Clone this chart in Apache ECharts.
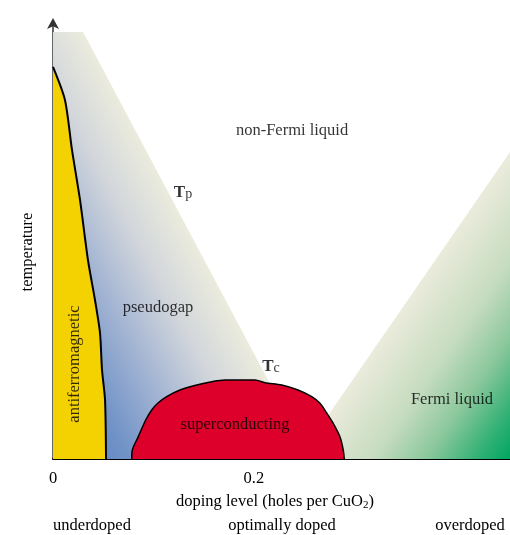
<!DOCTYPE html>
<html>
<head>
<meta charset="utf-8">
<script src="https://cdn.jsdelivr.net/npm/echarts@6/dist/echarts.min.js"></script>
<style>
  html, body { margin: 0; padding: 0; background: #fff; }
  #chart { width: 510px; height: 535px; }
</style>
</head>
<body>
<div id="chart"></div>
<script>
// Cuprate phase diagram: doping (holes per CuO2) vs temperature (arbitrary units)

// x-axis ticks
const tickValues = [0, 0.2];
const tickLabels = ['0', '0.2'];

// Neel line bounding the antiferromagnetic phase
const afDoping = [0, 0.0119, 0.0189, 0.0269, 0.0348, 0.0418, 0.0468, 0.0488, 0.0518, 0.0528];
const afTemp   = [275.4, 252.2, 217.1, 182.0, 139.8, 111.7, 88.5, 62.5, 41.5, 0];

// Pseudogap crossover T_p (shaded wedge beneath it)
const pgDoping = [0, 0.0299, 0.2559];
const pgTemp   = [300, 300, 0];

// Superconducting dome T_c
const scDoping = [0.0784, 0.0790, 0.0849, 0.0923, 0.0983, 0.1045, 0.1132, 0.1264, 0.1431, 0.1580, 0.1712,
                  0.2011, 0.2111, 0.2277, 0.2439, 0.2576, 0.2658, 0.2725, 0.2788, 0.2857, 0.2890, 0.2900];
const scTemp   = [0, 6.3, 15.7, 27.4, 34.4, 39.3, 43.8, 48.5, 52.0, 54.3, 55.5,
                  55.5, 53.6, 52.0, 48.5, 43.8, 39.1, 32.3, 25.3, 15.7, 6.3, 0];

// Fermi-liquid crossover (shaded wedge beneath it)
const flDoping = [0.2439, 0.455];
const flTemp   = [0, 215.7];

// Region names and where they sit in the diagram
const regionNames  = ['non-Fermi liquid', 'pseudogap', 'antiferromagnetic', 'superconducting', 'Fermi liquid'];
const regionDoping = [0.238, 0.1045, 0.0219, 0.1812, 0.3972];
const regionTemp   = [230.4, 106.1, 66.7, 23.9, 41.4];

// Crossover-line symbols
const lineNames  = ['T|p', 'T|c'];
const lineDoping = [0.1294, 0.2170];
const lineTemp   = [187.2, 64.6];

// Doping regimes along the bottom
const regimeNames = ['underdoped', 'optimally doped', 'overdoped'];

const zip = (xs, ys) => xs.map((x, i) => [x, ys[i]]);
const FONT = "'Liberation Serif', 'Times New Roman', serif";
const FS = 16.5;

const chart = echarts.init(document.getElementById('chart'), null, { renderer: 'canvas' });

const option = {
  animation: false,
  backgroundColor: '#fff',
  grid: { left: 53, right: 0, top: 22, bottom: 76 },
  xAxis: {
    type: 'value',
    min: 0,
    max: 0.455,
    splitLine: { show: false },
    axisLine: { show: true, onZero: false, lineStyle: { color: '#000', width: 2 } },
    axisTick: {
      show: true, inside: true, length: 10,
      customValues: [tickValues[1]],
      lineStyle: { color: '#000', width: 2 }
    },
    axisLabel: {
      show: true,
      customValues: tickValues,
      margin: 11,
      fontFamily: FONT, fontSize: FS, color: '#000',
      formatter: v => tickLabels[tickValues.indexOf(v)] ?? ''
    }
  },
  yAxis: {
    type: 'value',
    min: 0,
    max: 307,
    splitLine: { show: false },
    axisTick: { show: false },
    axisLabel: { show: false },
    axisLine: {
      show: true, onZero: false,
      symbol: ['none', 'arrow'],
      symbolSize: [9, 11],
      symbolOffset: [0, 4],
      lineStyle: { color: '#333', width: 1.5 }
    }
  },
  series: [
    {
      name: 'pseudogap',
      type: 'line',
      data: zip(pgDoping, pgTemp),
      showSymbol: false,
      silent: true,
      lineStyle: { width: 0 },
      areaStyle: {
        opacity: 1,
        color: new echarts.graphic.LinearGradient(0.779, 0.751, 0, 1, [
          { offset: 0, color: '#ebebdd' },
          { offset: 0.22, color: '#d2d6db' },
          { offset: 0.45, color: '#a4b5d3' },
          { offset: 0.7, color: '#7193c7' },
          { offset: 1, color: '#4f7cbd' }
        ])
      },
      z: 1
    },
    {
      name: 'Fermi liquid',
      type: 'line',
      data: zip(flDoping, flTemp),
      showSymbol: false,
      silent: true,
      lineStyle: { width: 0 },
      areaStyle: {
        opacity: 1,
        color: new echarts.graphic.LinearGradient(0.323, 0.677, 1, 1, [
          { offset: 0, color: '#ebebdc' },
          { offset: 0.35, color: '#c6dcc0' },
          { offset: 0.6, color: '#8cc89c' },
          { offset: 0.85, color: '#2eb074' },
          { offset: 1, color: '#00a661' }
        ])
      },
      z: 1
    },
    {
      name: 'antiferromagnetic',
      type: 'line',
      data: zip(afDoping, afTemp),
      showSymbol: false,
      smooth: 0.25,
      silent: true,
      lineStyle: { color: '#000', width: 2 },
      areaStyle: { opacity: 1, color: '#f4d100' },
      z: 2
    },
    {
      name: 'superconducting',
      type: 'line',
      data: zip(scDoping, scTemp),
      showSymbol: false,
      smooth: 0.3,
      silent: true,
      lineStyle: { color: '#000', width: 1.5 },
      areaStyle: { opacity: 1, color: '#dd002b' },
      z: 3
    },
    {
      name: 'regions',
      type: 'scatter',
      symbolSize: 0,
      silent: true,
      z: 5,
      data: regionNames.map((n, i) => ({
        name: n,
        value: [regionDoping[i], regionTemp[i]],
        label: n === 'antiferromagnetic' ? { rotate: 90 } : {}
      })),
      label: {
        show: true,
        position: 'inside',
        formatter: p => p.name,
        fontFamily: FONT, fontSize: FS, color: '#000'
      }
    },
    {
      name: 'crossovers',
      type: 'scatter',
      symbolSize: 0,
      silent: true,
      z: 5,
      data: lineNames.map((n, i) => ({ name: n, value: [lineDoping[i], lineTemp[i]] })),
      label: {
        show: true,
        position: 'inside',
        formatter: p => {
          const [main, sub] = p.name.split('|');
          return '{t|' + main + '}{s|' + sub + '}';
        },
        rich: {
          t: { fontFamily: FONT, fontSize: 17, fontWeight: 'bold', color: '#000', lineHeight: 17, verticalAlign: 'top' },
          s: { fontFamily: FONT, fontSize: 14, color: '#000', lineHeight: 14, padding: [9, 0, 0, 0], verticalAlign: 'bottom' }
        }
      }
    }
  ],
  graphic: [
    {
      type: 'text', x: 28, y: 252, rotation: Math.PI / 2,
      style: { text: 'temperature', font: FS + 'px ' + FONT, fill: '#000', align: 'center', verticalAlign: 'middle' }
    },
    {
      type: 'text', x: 275, y: 502,
      style: {
        text: '{a|doping level (holes per CuO}{s|2}{a|)}',
        align: 'center', verticalAlign: 'middle',
        rich: {
          a: { fontFamily: FONT, fontSize: FS, color: '#000', lineHeight: 18, verticalAlign: 'top' },
          s: { fontFamily: FONT, fontSize: 11, color: '#000', lineHeight: 11, padding: [8, 0, 0, 0], verticalAlign: 'bottom' }
        }
      }
    },
    {
      type: 'text', x: 92, y: 526,
      style: { text: regimeNames[0], font: FS + 'px ' + FONT, fill: '#000', align: 'center', verticalAlign: 'middle' }
    },
    {
      type: 'text', x: 282, y: 526,
      style: { text: regimeNames[1], font: FS + 'px ' + FONT, fill: '#000', align: 'center', verticalAlign: 'middle' }
    },
    {
      type: 'text', x: 470, y: 526,
      style: { text: regimeNames[2], font: FS + 'px ' + FONT, fill: '#000', align: 'center', verticalAlign: 'middle' }
    }
  ]
};

chart.setOption(option);
</script>
</body>
</html>
